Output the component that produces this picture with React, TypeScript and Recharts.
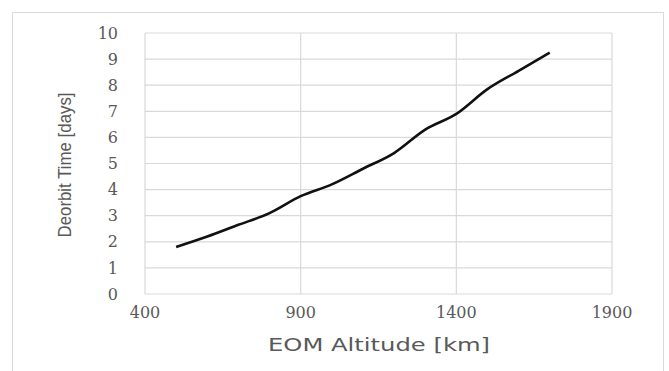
import React from "react";
import {
  LineChart,
  Line,
  XAxis,
  YAxis,
  CartesianGrid,
  Label,
} from "recharts";

// EOM altitude [km] vs deorbit time [days]
const altitudes = [500, 600, 700, 800, 900, 1000, 1100, 1200, 1300, 1400, 1500, 1600, 1700];
const deorbitDays = [1.8, 2.2, 2.65, 3.1, 3.75, 4.2, 4.8, 5.4, 6.3, 6.9, 7.85, 8.55, 9.25];

const xTicks = [400, 900, 1400, 1900];
const yTicks = [0, 1, 2, 3, 4, 5, 6, 7, 8, 9, 10];

const GRID = "#d9d9d9";
const TEXT = "#595959";

export default function App() {
  const data = altitudes.map((alt, i) => ({ alt, days: deorbitDays[i] }));

  const tickStyle = {
    fontFamily: "'DejaVu Serif', serif",
    fontSize: 16,
    fill: TEXT,
  };

  return (
    <div style={{ position: "absolute", left: 0, top: 0, width: 669, height: 371, background: "#fff", overflow: "hidden" }}>
      <div
        style={{
          position: "absolute",
          left: 12,
          top: 12,
          width: 652,
          height: 400,
          border: `1px solid ${GRID}`,
          boxSizing: "border-box",
        }}
      />
      <div style={{ position: "absolute", left: 0, top: 0 }}>
        <LineChart
          width={669}
          height={371}
          data={data}
          margin={{ top: 33, right: 57, bottom: 0, left: 0 }}
        >
          <CartesianGrid stroke={GRID} strokeWidth={1.2} />
          <XAxis
            dataKey="alt"
            type="number"
            domain={[400, 1900]}
            ticks={xTicks}
            axisLine={false}
            tickLine={false}
            tickSize={0}
            tickMargin={13}
            height={77}
            tick={tickStyle}
          >
            <Label
              content={() => (
                <text
                  x={379}
                  y={351}
                  textAnchor="middle"
                  textLength={222}
                  lengthAdjust="spacingAndGlyphs"
                  fontFamily="'DejaVu Sans', sans-serif"
                  fontSize={18}
                  fill={TEXT}
                >
                  EOM Altitude [km]
                </text>
              )}
            />
          </XAxis>
          <YAxis
            type="number"
            domain={[0, 10]}
            ticks={yTicks}
            axisLine={false}
            tickLine={false}
            tickSize={0}
            tickMargin={27}
            width={145}
            tick={tickStyle}
          >
            <Label
              content={() => (
                <text
                  x={71}
                  y={165}
                  transform="rotate(-90 71 165)"
                  textAnchor="middle"
                  textLength={145}
                  lengthAdjust="spacingAndGlyphs"
                  fontFamily="'Liberation Sans Narrow', 'Liberation Sans', sans-serif"
                  fontSize={19}
                  fill={TEXT}
                >
                  Deorbit Time [days]
                </text>
              )}
            />
          </YAxis>
          <Line
            dataKey="days"
            type="monotone"
            stroke="#111"
            strokeWidth={2.6}
            dot={false}
            isAnimationActive={false}
          />
        </LineChart>
      </div>
    </div>
  );
}
